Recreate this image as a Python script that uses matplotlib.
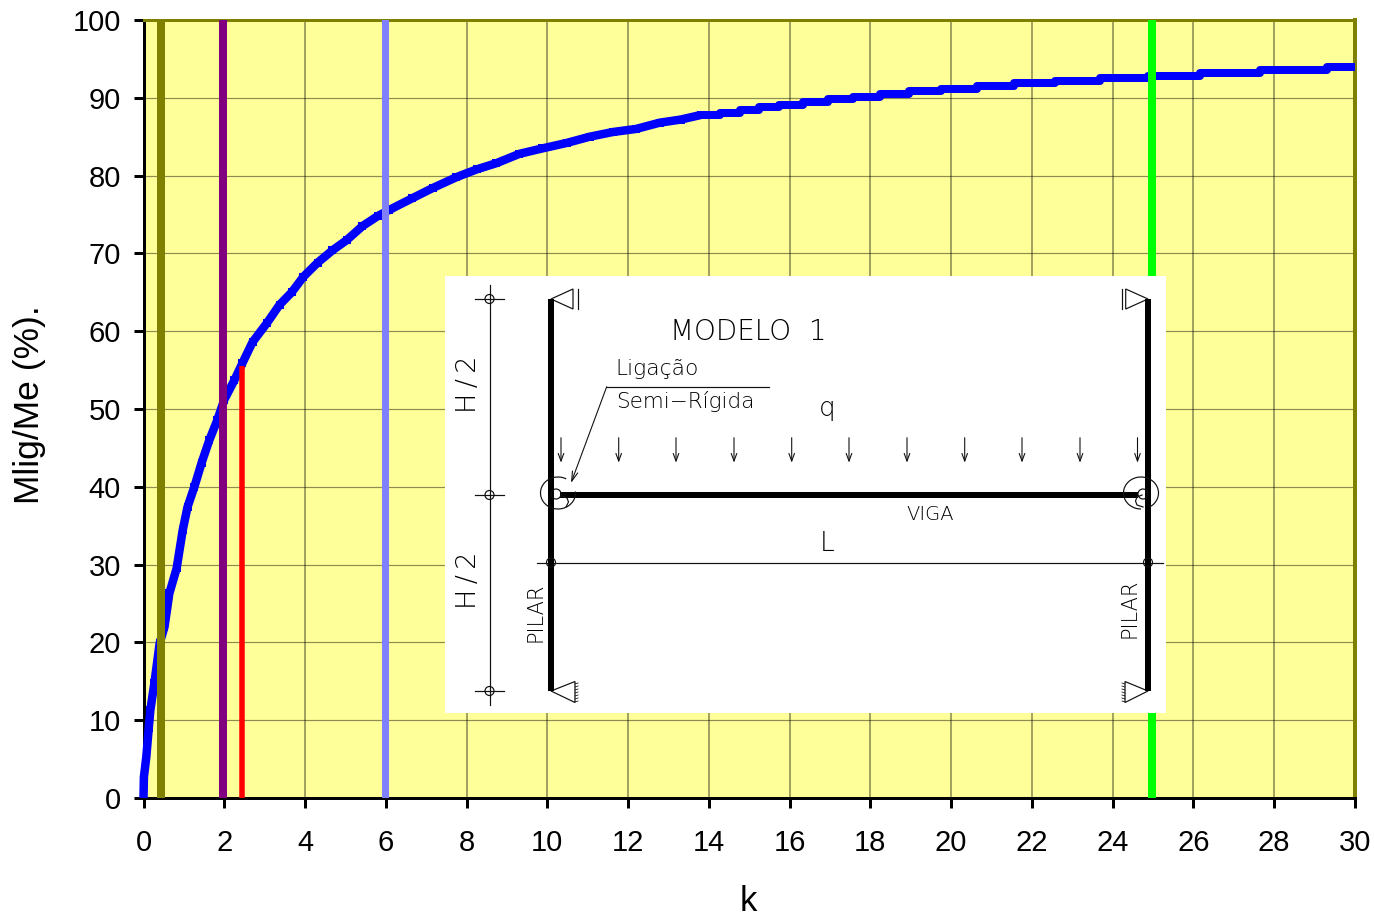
#!/usr/bin/env python

import matplotlib
matplotlib.use('Agg')
import matplotlib.pyplot as plt
from matplotlib.patches import Arc, Circle, Polygon, Rectangle

# curve: smooth part up to k ~ 14
K_CURVE = [0, 0.01, 0.07, 0.13, 0.17, 0.27, 0.40, 0.52, 0.59, 0.64, 0.82, 0.97, 1.09, 1.26,
           1.44, 1.63, 1.83, 2.00, 2.25, 2.45, 2.70, 3.05, 3.37, 3.67, 3.96, 4.31, 4.68,
           5.03, 5.42, 5.80, 6.09, 6.66, 7.16, 7.75, 8.25, 8.74, 9.31, 9.88, 10.48, 11.05,
           11.62, 12.20, 12.78, 13.30, 13.80]
M_CURVE = [0, 2.7, 5.3, 9.0, 11.3, 14.8, 19.9, 22.0, 24.5, 26.3, 29.5, 34.4, 37.4, 40.0,
           43.1, 46.0, 48.6, 51.2, 53.7, 55.9, 58.6, 61.0, 63.4, 65.0, 67.0, 68.8, 70.4,
           71.7, 73.5, 74.8, 75.6, 77.1, 78.4, 79.8, 80.8, 81.6, 82.8, 83.5, 84.2, 85.0,
           85.6, 86.0, 86.8, 87.2, 87.79]
# stair part, k where each plateau starts
K_STEPS = [13.80, 14.27, 14.76, 15.23, 15.73, 16.32, 16.94, 17.56, 18.23, 18.95, 19.74, 20.63,
           21.55, 22.57, 23.68, 24.87, 26.16, 27.64, 29.30, 30.0]
M_STEPS = [87.79, 88.08, 88.43, 88.78, 89.07, 89.42, 89.81, 90.14, 90.49, 90.84, 91.13, 91.48,
           91.84, 92.17, 92.50, 92.85, 93.20, 93.57, 93.92, 93.92]

K_OLIVE = 0.44
K_PURPLE = 1.97
K_RED = 2.43
M_RED = 55.5
K_PERI = 5.98
K_GREEN = 24.97

X_TICKS = list(range(0, 31, 2))
Y_TICKS = list(range(0, 101, 10))

# inset drawing, in picture pixels
COL_X = [551, 1148]
BEAM_Y = 494.5
COL_TOP, COL_BOT = 299, 691
LOAD_X = [561, 618.7, 676, 734, 791.7, 849, 907, 964.7, 1022, 1080, 1137.5]
H_DIM_X = 489.5
H_DIM_Y = [299, 495, 691]
L_DIM_Y = 562.5
CURL_L = ([566, 568.5, 567, 562], [507, 502, 498, 496])
CURL_R = ([1143, 1137, 1135.5, 1137, 1142], [507, 505, 501, 497, 495])

FONT = ['Liberation Sans', 'DejaVu Sans']
CAD = dict(family=['DejaVu Sans'], fontweight=200, color='black', ha='center', va='center')
PX = 72 / 100


def inset(ov):
    ov.add_patch(Rectangle((445, 276), 721, 437, color='white', lw=0, zorder=1))
    k = dict(color='black', zorder=3, solid_capstyle='butt')
    t = dict(color='#111111', lw=1.2 * PX, zorder=2)
    e = dict(ec='#111111', lw=1.2 * PX)

    for x in COL_X:
        ov.plot([x, x], [COL_TOP, COL_BOT], lw=6 * PX, **k)
    ov.plot([560, 1138], [BEAM_Y, BEAM_Y], lw=6 * PX, **k)

    # height dimension
    ov.plot([H_DIM_X, H_DIM_X], [285, 705], **t)
    for y in H_DIM_Y:
        ov.plot([474.5, 504], [y, y], **t)
        ov.add_patch(Circle((H_DIM_X, y), 4.5, fill=False, zorder=2, **e))
    # span dimension
    ov.plot([537, 1163], [L_DIM_Y, L_DIM_Y], **t)
    for x in COL_X:
        ov.add_patch(Circle((x, L_DIM_Y), 4.5, fill=False, zorder=4, **e))

    # supports
    for x, xb, xbar in [(551, 573, 578), (1148, 1125.7, 1121.7)]:
        ov.add_patch(Polygon([(x, COL_TOP), (xb, 289), (xb, 309)], fill=False, zorder=2, **e))
        ov.plot([xbar, xbar], [289, 309], **t)
    for x, xb, s in [(551, 575, 1), (1148, 1125, -1)]:
        ov.add_patch(Polygon([(x, COL_BOT), (xb, 681.5), (xb, 702.5)], fill=False, zorder=2, **e))
        for y in range(684, 704, 3):
            ov.plot([xb, xb + s * 3], [y, y - 1], color='#111111', lw=0.8 * PX, zorder=2)

    # semi rigid joints
    ov.add_patch(Arc((558, 493), 35, 32, theta1=-5, theta2=300, zorder=4, **e))
    ov.add_patch(Arc((1141, 493), 35, 32, theta1=90, theta2=420, zorder=4, **e))
    for x in [556, 1143]:
        ov.add_patch(Circle((x, 494), 5, fill=False, zorder=4, **e))
    ov.plot(*CURL_L, color='#111111', lw=1.2 * PX, zorder=4)
    ov.plot(*CURL_R, color='#111111', lw=1.2 * PX, zorder=4)

    # loads
    for x in LOAD_X:
        ov.annotate('', xy=(x, 462.7), xytext=(x, 437.7), zorder=2,
                    arrowprops=dict(arrowstyle='->,head_length=0.55,head_width=0.2', lw=1.1 * PX,
                                    color='#111111', shrinkA=0, shrinkB=0))

    # leader
    ov.plot([606.7, 769], [386.7, 386.7], **t)
    ov.annotate('', xy=(571, 483), xytext=(606.7, 386.7), zorder=2,
                arrowprops=dict(arrowstyle='->,head_length=0.7,head_width=0.2', lw=1.1 * PX,
                                color='#111111', shrinkA=0, shrinkB=0))

    ov.text(748.5, 331.5, 'MODELO  1', fontsize=20, **CAD)
    ov.text(657, 369, 'Ligação', fontsize=15.7, **CAD)
    ov.text(685, 401, 'Semi−Rígida', fontsize=15.5, **CAD)
    ov.text(827, 408, 'q', fontsize=19, **CAD)
    ov.text(930, 514.5, 'VIGA', fontsize=14, **CAD)
    ov.text(827, 543, 'L', fontsize=19, **CAD)
    ov.text(468, 384.5, 'H\u2009/\u20092', fontsize=19.5, rotation=90, **CAD)
    ov.text(469, 580, 'H\u2009/\u20092', fontsize=19.5, rotation=90, **CAD)
    ov.text(535.5, 612.5, 'PILAR', fontsize=15, rotation=90, **CAD)
    ov.text(1129, 608.5, 'PILAR', fontsize=15, rotation=90, **CAD)


def main():
    plt.rcParams['font.family'] = FONT
    W, H = 1374, 921
    fig = plt.figure(figsize=(W / 100, H / 100), dpi=100, facecolor='white')
    ax = fig.add_axes([143.5 / W, 1 - 798 / H, (1355 - 143.5) / W, (798 - 20) / H])
    ax.set_facecolor('#FFFF99')
    ax.set_xlim(0, 30)
    ax.set_ylim(0, 100)
    ax.set_xticks(X_TICKS)
    ax.set_yticks(Y_TICKS)
    ax.grid(True, axis='y', color='black', alpha=0.45, lw=1.2 * PX, zorder=1)
    ax.grid(True, axis='x', color='black', alpha=0.45, lw=1.6 * PX, zorder=1)
    ax.set_axisbelow(True)

    for name, col, w in [('left', 'black', 3), ('bottom', 'black', 3),
                         ('top', '#808000', 3), ('right', '#808000', 4)]:
        ax.spines[name].set_color(col)
        ax.spines[name].set_linewidth(w * PX)
    ax.tick_params(length=10 * PX, width=3 * PX, labelsize=21, color='black')
    ax.tick_params(axis='x', pad=15)
    ax.tick_params(axis='y', pad=9)

    blue = dict(color='#0000FF', zorder=3, clip_on=False, solid_capstyle='butt')
    ax.plot(K_CURVE, M_CURVE, lw=8.5 * PX, marker='s', ms=8.5 * PX, mew=0,
            markevery=list(range(3, len(K_CURVE))), solid_joinstyle='miter', **blue)
    ax.plot(K_STEPS, M_STEPS, lw=8 * PX, drawstyle='steps-post', solid_joinstyle='round', **blue)

    ax.axvline(K_OLIVE, color='#808000', lw=8 * PX, zorder=4)
    ax.axvline(K_PURPLE, color='#800080', lw=8 * PX, zorder=4)
    ax.axvline(K_PERI, color='#8080FF', lw=7 * PX, zorder=4)
    ax.axvline(K_GREEN, color='#00FF00', lw=8 * PX, zorder=4)
    ax.plot([K_RED, K_RED], [0, M_RED], color='#FF0000', lw=5.5 * PX, zorder=4, solid_capstyle='butt')

    fig.text(30 / W, 1 - 405 / H, 'Mlig/Me (%).', rotation=90, fontsize=25.5, ha='center', va='center')
    fig.text(748 / W, 1 - 901 / H, 'k', fontsize=25, ha='center', va='center')

    ov = fig.add_axes([0, 0, 1, 1], facecolor='none')
    ov.set_xlim(0, W)
    ov.set_ylim(H, 0)
    ov.axis('off')
    inset(ov)

    fig.savefig('out.png', dpi=100)


if __name__ == '__main__':
    main()
